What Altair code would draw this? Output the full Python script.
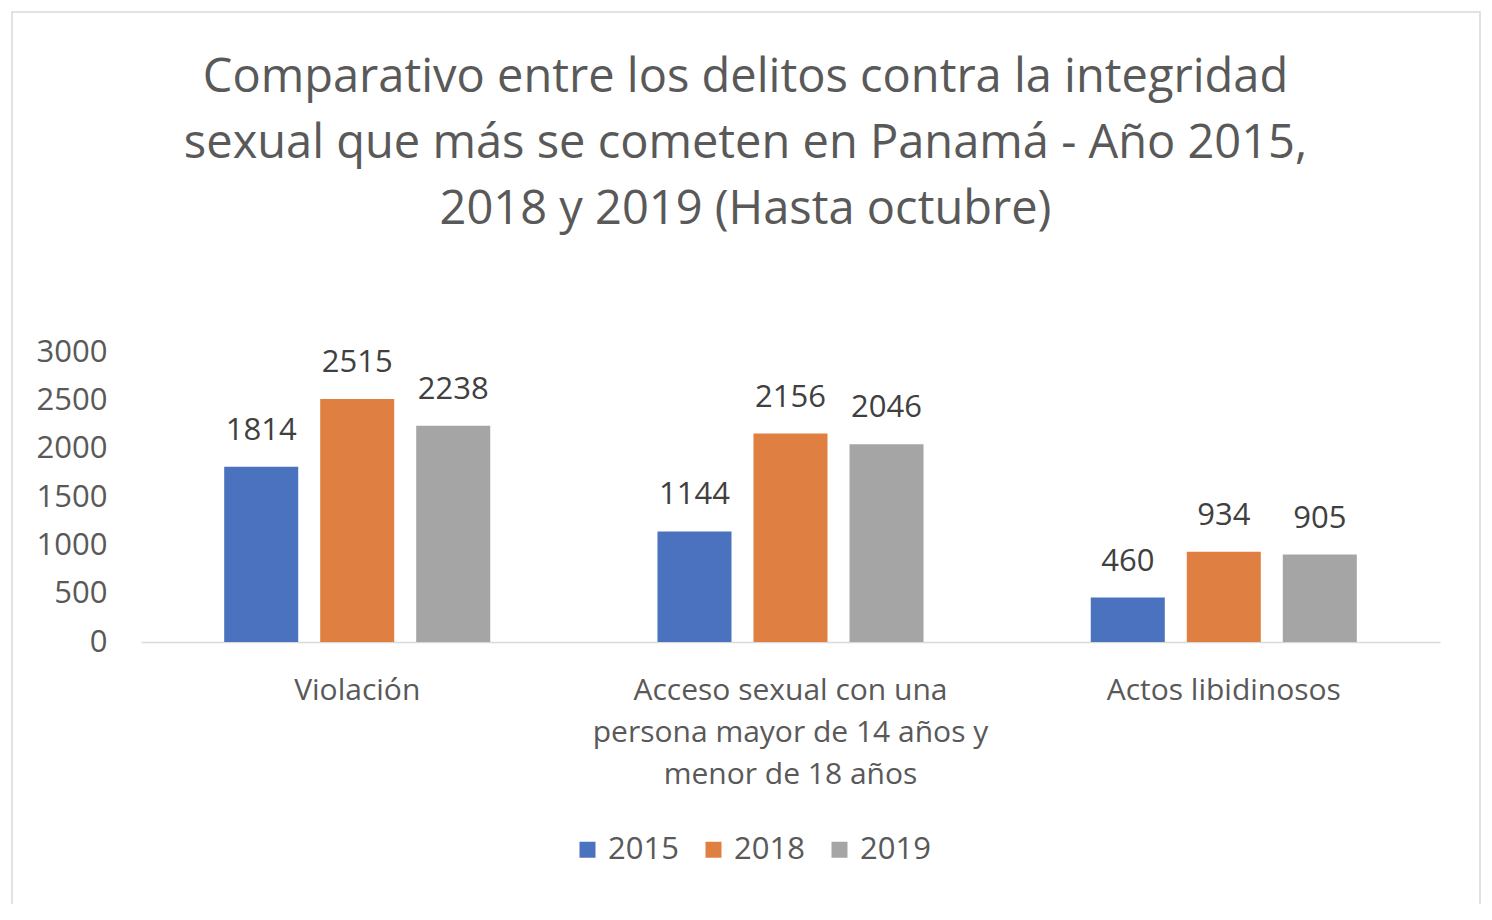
import altair as alt
import pandas as pd

categories = ["Violación", "Acceso sexual con una persona mayor de 14 años y menor de 18 años", "Actos libidinosos"]
years = ["2015", "2018", "2019"]
values_2015 = [1814, 1144, 460]
values_2018 = [2515, 2156, 934]
values_2019 = [2238, 2046, 905]
y_ticks = [0, 500, 1000, 1500, 2000, 2500, 3000]
colors = ["#4A72BE", "#E07F42", "#A5A5A5"]

rows = []
for i, c in enumerate(categories):
    for y, vals in zip(years, [values_2015, values_2018, values_2019]):
        rows.append({"cat": c, "year": y, "value": vals[i]})
df = pd.DataFrame(rows)

FONT = "Open Sans"

label_expr = ("datum.label == 'Acceso sexual con una persona mayor de 14 años y menor de 18 años' ? "
              "['Acceso sexual con una', 'persona mayor de 14 años y', 'menor de 18 años'] : datum.label")

base = alt.Chart(df).encode(
    x=alt.X("cat:N", sort=categories, title=None,
            scale=alt.Scale(paddingInner=0.386, paddingOuter=0.192),
            axis=alt.Axis(labelAngle=0, labelExpr=label_expr, labelFontSize=30, labelColor="#595959",
                          labelFont=FONT, labelPadding=33, labelLineHeight=42, ticks=False,
                          domainColor="#D9D9D9", domainWidth=1.5, labelLimit=600)),
    xOffset=alt.XOffset("year:N", sort=years, scale=alt.Scale(paddingInner=0.229, paddingOuter=0)),
    y=alt.Y("value:Q", title=None, scale=alt.Scale(domain=[0, 3000]),
            axis=alt.Axis(values=y_ticks, format="d", grid=False, domain=False, ticks=False, labelFontSize=31,
                          labelColor="#595959", labelFont=FONT, labelPadding=34)),
)

bars = base.mark_bar().encode(
    color=alt.Color("year:N", sort=years, scale=alt.Scale(domain=years, range=colors),
                    legend=alt.Legend(title=None, orient="none", legendX=431, legendY=482,
                                      direction="horizontal", symbolType="square", symbolSize=256,
                                      labelFontSize=31, labelFont=FONT, labelColor="#595959",
                                      columnPadding=19, labelOffset=5, symbolStrokeWidth=0))
)

text = base.mark_text(baseline="middle", dy=-36, fontSize=31, font=FONT, color="#404040").encode(
    text="value:Q"
)

border = alt.Chart(alt.Data(values=[{}])).mark_rect(filled=False, stroke="#D9D9D9", strokeWidth=1.5, clip=False).encode(
    x=alt.value(-129), x2=alt.value(1339), y=alt.value(-340), y2=alt.value(556)
)

chart = alt.layer(border, bars, text).properties(
    width=1299, height=290,
    title=alt.TitleParams(
        ["Comparativo entre los delitos contra la integridad",
         "sexual que más se cometen en Panamá - Año 2015,",
         "2018 y 2019 (Hasta octubre)"],
        fontSize=47, font=FONT, fontWeight="normal", color="#595959",
        anchor="middle", frame="group", dx=-45, offset=-223, lineHeight=66),
    autosize=alt.AutoSizeParams(type="none"),
    padding={"left": 133, "top": 344, "right": 44, "bottom": 262},
).configure(background="white").configure_view(strokeWidth=0, strokeOpacity=0)

chart.save("out.html", embed_options={"renderer": "svg", "actions": False})
